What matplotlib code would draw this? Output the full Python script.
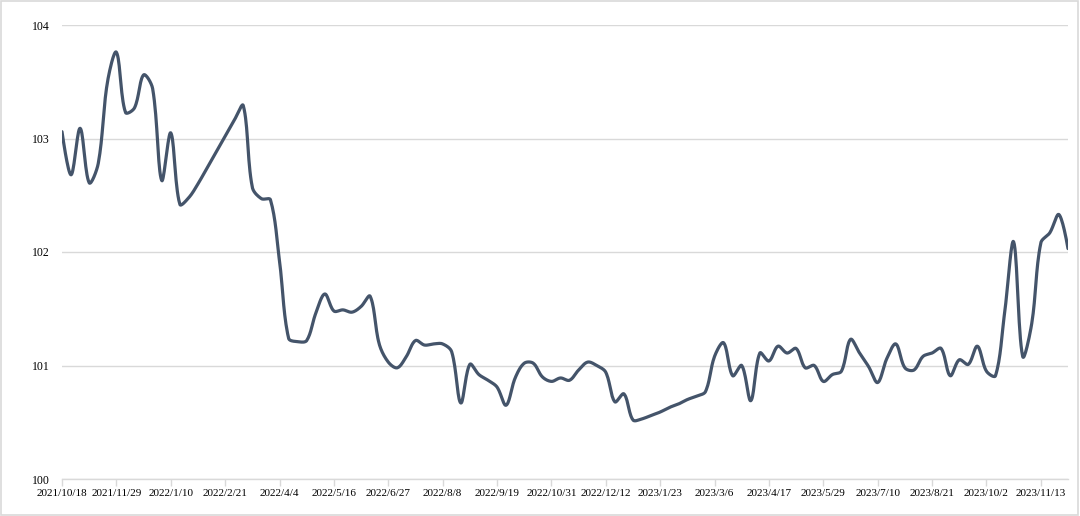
import numpy as np
import pandas as pd
import matplotlib
matplotlib.use("Agg")
import matplotlib.pyplot as plt
from matplotlib.patches import Rectangle

# weekly index values, starting 2021/10/18
start_date = "2021-10-18"
values = [
    103.06, 102.68, 103.09, 102.61, 102.78, 103.49, 103.76, 103.23, 103.27, 103.56,
    103.44, 102.63, 103.05, 102.42, 102.48, 102.60, 102.74, 102.88, 103.02, 103.16,
    103.29, 102.57, 102.47, 102.46, 101.92, 101.24, 101.21, 101.22, 101.46, 101.63,
    101.48, 101.49, 101.47, 101.52, 101.61, 101.19, 101.03, 100.98, 101.08, 101.22,
    101.18, 101.19, 101.19, 101.12, 100.67, 101.01, 100.92, 100.87, 100.81, 100.65,
    100.89, 101.02, 101.02, 100.90, 100.86, 100.89, 100.87, 100.96, 101.03, 101.00,
    100.94, 100.68, 100.75, 100.52, 100.53, 100.56, 100.59, 100.63, 100.66, 100.70,
    100.73, 100.77, 101.08, 101.20, 100.91, 101.00, 100.69, 101.11, 101.04, 101.17,
    101.11, 101.15, 100.98, 101.00, 100.86, 100.92, 100.95, 101.23, 101.11, 100.99,
    100.85, 101.06, 101.19, 100.98, 100.96, 101.08, 101.11, 101.15, 100.91, 101.05,
    101.01, 101.17, 100.95, 100.91, 101.46, 102.09, 101.08, 101.37, 102.08, 102.17,
    102.33, 102.03,
]
y_ticks = [100, 101, 102, 103, 104]
label_every = 6

dates = pd.date_range(start_date, periods=len(values), freq="7D")
labels = [f"{d.year}/{d.month}/{d.day}" for d in dates]


def smooth(x, y, sx=9.06, sy=113.5, k=0.34, steps=16):
    # bezier through the points, control arms weighted by segment length on screen
    p = np.column_stack([np.asarray(x, float) * sx, np.asarray(y, float) * sy])
    n = len(p)
    c_in = p.copy()
    c_out = p.copy()
    for i in range(1, n - 1):
        v = p[i + 1] - p[i - 1]
        d0 = np.hypot(*(p[i] - p[i - 1]))
        d1 = np.hypot(*(p[i + 1] - p[i]))
        c_in[i] = p[i] - v * k * d0 / (d0 + d1)
        c_out[i] = p[i] + v * k * d1 / (d0 + d1)
    t = np.linspace(0, 1, steps, endpoint=False)[:, None]
    segs = []
    for i in range(n - 1):
        a, b, c, d = p[i], c_out[i], c_in[i + 1], p[i + 1]
        segs.append((1 - t) ** 3 * a + 3 * (1 - t) ** 2 * t * b + 3 * (1 - t) * t ** 2 * c + t ** 3 * d)
    segs.append(p[-1:])
    pts = np.vstack(segs)
    return pts[:, 0] / sx, pts[:, 1] / sy


plt.rcParams['font.family'] = ['Liberation Serif', 'DejaVu Serif']

fig = plt.figure(figsize=(10.8, 5.16), dpi=100)
ax = fig.add_axes([62 / 1080, 1 - 479 / 516, (1068 - 62) / 1080, (479 - 25) / 516])

idx = np.arange(len(values))
lx, ly = smooth(idx, values)
ax.plot(lx, ly, color="#44546A", lw=2.3, solid_capstyle="round", zorder=3)

ax.set_xlim(0, len(values) - 1)
ax.set_ylim(100, 104)
ax.set_yticks(y_ticks)
ax.set_yticklabels([str(v) for v in y_ticks], fontsize=8.5, color="#000000")
ax.tick_params(axis="y", length=0, pad=9)

ticks = idx[::label_every]
ax.set_xticks(ticks)
ax.set_xticklabels([labels[i] for i in ticks], fontsize=8, color="#000000")
ax.tick_params(axis="x", length=5, width=1, color="#D9D9D9", pad=2)

ax.grid(axis="y", color="#D9D9D9", lw=1)
ax.set_axisbelow(True)
for side in ["left", "right", "top"]:
    ax.spines[side].set_visible(False)
ax.spines["bottom"].set_color("#D9D9D9")
ax.spines["bottom"].set_linewidth(1)

fig.patches.append(Rectangle((0.001, 0.002), 0.997, 0.996, transform=fig.transFigure,
                             fill=False, edgecolor="#D9D9D9", lw=1.2))

fig.savefig("out.png", dpi=100)
